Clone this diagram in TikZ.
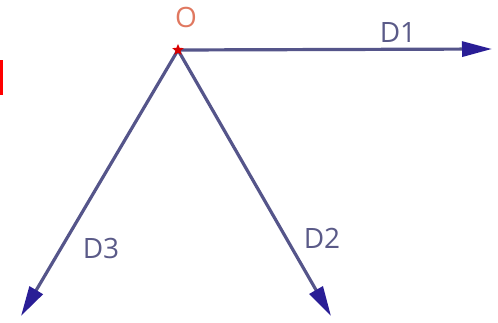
\documentclass[tikz,border=0pt]{standalone}
\usepackage{fontspec}
\setmainfont{Open Sans}
\usetikzlibrary{arrows.meta,shapes.geometric}
\definecolor{lineblue}{HTML}{55558A}
\definecolor{tipblue}{HTML}{2A1E96}
\definecolor{labelc}{HTML}{5A5A88}
\definecolor{ored}{HTML}{E07860}
\tikzset{
  ray/.style={draw=lineblue, line width=3.2pt, -{Triangle[length=30pt,width=15pt,fill=tipblue,color=tipblue]}},
  lab/.style={text=labelc, font=\fontsize{28}{30}\selectfont, inner sep=0pt}
}
\begin{document}
\begin{tikzpicture}[x=1pt,y=-1pt]
\useasboundingbox (0,0) rectangle (498,323);
\fill[red] (0,60) rectangle (3,95);
\coordinate (O) at (178,50);
\coordinate (e1) at (492,49);
\coordinate (e2) at (331,316);
\coordinate (e3) at (21,316);
\draw[ray] (O) -- (e1);
\draw[ray] (O) -- (e2);
\draw[ray] (O) -- (e3);
\node[star, star points=5, star point ratio=2.2, fill=red!85!black, inner sep=0pt, minimum size=12pt] (s) at (O) {};
\node[lab, text=ored] (lo) at (186,17) {O};
\node[lab] (l1) at (398,33) {D1};
\node[lab] (l2) at (322,238) {D2};
\node[lab] (l3) at (101,248) {D3};
\end{tikzpicture}
\end{document}
